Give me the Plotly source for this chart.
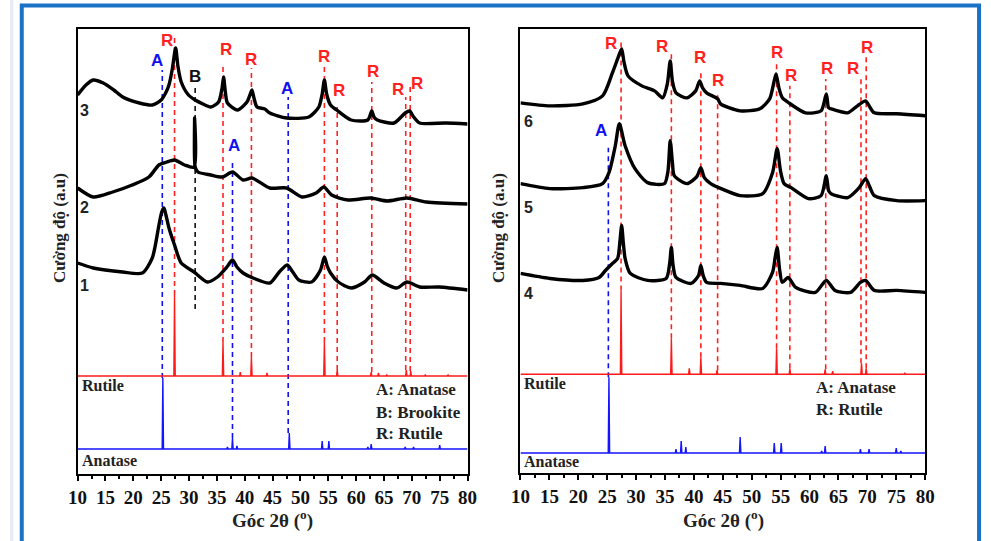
import plotly.graph_objects as go

W, H = 991, 541

# ---------------- LEFT PANEL DATA (intensity a.u., stacked) ----------------
L3_x = [10, 11.5, 12.8, 14.6, 16.5, 18.1, 21.1, 23.4, 25.0, 25.8, 26.4, 27.0, 27.6, 28.0, 28.6, 29.9, 31.1, 32.5, 33.9,
        35.3, 35.9, 36.2, 36.5, 36.9, 38.7, 40.4, 41.0, 41.3, 41.7, 42.2, 43.6, 44.5, 47.5, 51.5, 53.3, 53.9, 54.3,
        54.7, 55.4, 56.5, 59.1, 62.1, 62.8, 63.2, 63.8, 66.8, 68.8, 69.6, 70.2, 71.4, 76.1, 80]
L3_y = [379, 389, 394, 391, 384, 377, 371, 369, 374, 381, 389, 405, 426, 408, 392, 379, 374, 370, 367,
        372, 385, 397, 383, 371, 364, 372, 380, 384, 375, 367, 365, 361, 356, 357, 367, 380, 394,
        380, 369, 364, 354, 354, 363, 357, 354, 351, 361, 363, 358, 351, 351, 350]

L2_x = [10, 12.8, 16.3, 19.8, 22.8, 24.6, 26.0, 27.4, 29.2, 30.9, 31.0, 31.1, 31.6, 33.9, 36.0, 37.8, 39.7, 41.3,
        44.5, 47.5, 50.3, 52.8, 54.2, 55.6, 58.5, 62.6, 65.6, 69.1, 72.6, 80]
L2_y = [286, 277, 282, 289, 297, 309, 312, 314, 309, 307, 356, 307, 302, 299, 297, 302, 294, 296,
        286, 286, 277, 281, 287, 279, 274, 276, 273, 276, 272, 270]

L1_x = [10, 12.8, 18.1, 21.6, 23.4, 24.6, 25.1, 25.5, 25.9, 26.4, 27.4, 28.6, 30.9, 33.3, 35.1, 36.8, 37.8, 38.6,
        39.7, 41.5, 44.5, 46.2, 47.6, 48.5, 49.7, 52.0, 53.6, 54.3, 54.8, 55.4, 56.8, 59.1, 61.5, 62.9, 65.0,
        67.3, 69.1, 71.4, 74.9, 80]
L1_y = [211, 206, 202, 201, 216, 249, 262, 266, 258, 246, 229, 211, 202, 192, 197, 207, 214, 207,
        201, 196, 191, 202, 209, 203, 194, 192, 204, 217, 208, 201, 192, 186, 192, 199, 191,
        186, 192, 187, 187, 184]

L_rut_base = 98
L_rut_pos = [27.4, 36.1, 39.2, 41.2, 44.0, 54.3, 56.6, 62.7, 64.0, 65.5, 69.0, 69.8, 72.4, 76.5]
L_rut_int = [81, 34, 4, 19, 3, 34, 6, 4, 3, 1, 6, 5, 1, 1]
L_ana_base = 25
L_ana_pos = [25.3, 36.9, 37.8, 38.6, 48.0, 53.9, 55.1, 62.1, 62.7, 68.8, 70.3, 75.0]
L_ana_int = [71, 2, 11, 3, 16, 8, 8, 2, 5, 2, 2, 4]

# dashed guide lines: position, colour, top, bottom
L_dash_pos = [25.2, 27.4, 31.1, 36.1, 37.8, 41.2, 47.8, 54.3, 56.6, 62.8, 68.9, 69.7]
L_dash_col = ["blue", "red", "black", "red", "blue", "red", "blue", "red", "red", "red", "red", "red"]
L_dash_top = [404, 436, 389, 409, 314, 406, 377, 409, 367, 392, 377, 389]
L_dash_bot = [96, 179, 165, 132, 36, 117, 41, 132, 104, 102, 104, 103]

L_lab_txt = ["A", "R", "B", "R", "R", "A", "R", "R", "R", "R", "R", "A"]
L_lab_col = ["blue", "red", "black", "red", "red", "blue", "red", "red", "red", "red", "red", "blue"]
L_lab_x = [24.25, 26.0, 31.1, 36.6, 41.1, 47.6, 54.3, 57.0, 63.1, 67.5, 71.0, 38.0]
L_lab_y = [414, 434, 398, 425, 415, 386, 418, 384, 403, 385, 391, 329]

L_num_txt = ["3", "2", "1"]
L_num_y = [364, 267, 189]
L_leg_txt = ["A: Anatase", "B: Brookite", "R: Rutile"]
L_leg_y = [85, 62, 41]

# ---------------- RIGHT PANEL DATA ----------------
R6_x = [10, 15.1, 20.8, 24.2, 25.9, 26.8, 27.5, 27.9, 28.6, 31.0, 33.2, 34.6, 35.4, 35.9, 36.3, 36.9, 38.8, 40.3,
        41.0, 41.5, 42.2, 44.1, 44.6, 48.0, 51.4, 53.1, 53.7, 54.2, 54.7, 55.3, 56.4, 59.3, 62.0, 62.9, 63.3,
        63.7, 66.6, 68.3, 69.7, 70.3, 71.2, 75.1, 80]
R6_y = [371, 368, 370, 378, 401, 415, 425, 412, 398, 388, 383, 376, 390, 413, 392, 381, 376, 383,
        393, 386, 381, 375, 370, 363, 365, 375, 388, 400, 386, 376, 371, 361, 363, 380, 366,
        365, 361, 368, 373, 368, 361, 360, 358]

R5_x = [10, 15.1, 20.8, 24.2, 25.3, 26.4, 27.1, 28.1, 29.8, 32.0, 34.9, 35.5, 35.9, 36.3, 36.6, 38.8, 40.5, 41.2,
        41.8, 42.9, 44.7, 48.0, 51.9, 53.6, 54.4, 55.0, 55.6, 56.8, 59.8, 62.0, 62.9, 63.3, 63.7, 66.6,
        68.6, 69.7, 70.4, 71.2, 75.1, 80]
R5_y = [290, 285, 286, 290, 301, 328, 350, 328, 305, 291, 290, 302, 333, 310, 298, 290, 297, 306,
        296, 290, 285, 278, 280, 301, 325, 302, 290, 286, 275, 278, 298, 283, 280, 276,
        286, 295, 287, 278, 273, 273]

R4_x = [10, 15.1, 20.8, 23.6, 24.7, 25.9, 26.8, 27.2, 27.5, 27.8, 28.1, 29.0, 32.0, 35.2, 35.8, 36.1, 36.4, 36.9,
        39.5, 40.8, 41.2, 41.6, 42.2, 44.6, 48.0, 51.9, 53.6, 54.1, 54.4, 54.8, 55.3, 56.3, 57.6, 61.0, 62.9,
        64.4, 67.1, 68.8, 69.7, 71.2, 75.1, 80]
R4_y = [200, 195, 193, 196, 203, 210, 215, 232, 248, 230, 215, 200, 193, 195, 210, 226, 208, 196,
        190, 198, 208, 198, 191, 190, 188, 185, 201, 218, 226, 205, 191, 196, 186, 181, 193,
        183, 181, 191, 193, 183, 183, 181]

R_rut_base = 99
R_rut_pos = [27.4, 36.1, 39.2, 41.2, 44.0, 54.3, 56.6, 62.7, 64.0, 69.0, 69.8, 76.5]
R_rut_int = [84, 36, 6, 17, 4, 26, 6, 5, 3, 11, 6, 1]
R_ana_base = 20
R_ana_pos = [25.3, 36.9, 37.8, 38.6, 48.0, 53.9, 55.1, 62.1, 62.7, 68.8, 70.3, 75.0, 75.8]
R_ana_int = [76, 4, 12, 6, 16, 10, 10, 2, 7, 4, 4, 5, 2]

R_dash_pos = [25.2, 27.4, 36.1, 41.2, 44.1, 54.3, 56.6, 62.8, 68.9, 69.8]
R_dash_col = ["blue", "red", "red", "red", "red", "red", "red", "red", "red", "red"]
R_dash_top = [326, 435, 423, 403, 381, 411, 388, 395, 395, 418]
R_dash_bot = [96, 183, 135, 116, 103, 125, 105, 104, 110, 105]

R_lab_txt = ["R", "R", "R", "R", "R", "R", "R", "R", "R", "A"]
R_lab_col = ["red"] * 9 + ["blue"]
R_lab_x = [25.6, 34.4, 41.0, 44.2, 54.4, 56.8, 63.1, 67.5, 70.0, 23.9]
R_lab_y = [430, 427, 416, 393, 421, 398, 405, 405, 426, 343]

R_num_txt = ["6", "5", "4"]
R_num_y = [352, 266, 180]
R_leg_txt = ["A: Anatase", "R: Rutile"]
R_leg_y = [86, 64]

XTICKS = [10, 15, 20, 25, 30, 35, 40, 45, 50, 55, 60, 65, 70, 75, 80]
XTICK_TEXT = ["<b>%d</b>" % v for v in XTICKS]

COL = {"blue": "#1010f0", "red": "#ff2020", "black": "#111111"}
SERIF = "Liberation Serif, Times New Roman, serif"
SANS = "Liberation Sans, Arial, sans-serif"


def sticks(base, pos, inten, w=0.12):
    xs, ys = [10], [base]
    for p, h in sorted(zip(pos, inten)):
        xs += [p - w, p, p + w]
        ys += [base, base + h, base]
    xs.append(80)
    ys.append(base)
    return xs, ys


fig = go.Figure()

panels = [
    dict(xa="x", ya="y", curves=[(L3_x, L3_y), (L2_x, L2_y), (L1_x, L1_y)],
         rut=(L_rut_base, L_rut_pos, L_rut_int), ana=(L_ana_base, L_ana_pos, L_ana_int),
         dash=(L_dash_pos, L_dash_col, L_dash_top, L_dash_bot),
         lab=(L_lab_txt, L_lab_col, L_lab_x, L_lab_y), num=(L_num_txt, L_num_y),
         leg=(L_leg_txt, L_leg_y), legx=63.2, numx=11.2, txtx=10.4, ru_y=89, an_y=14),
    dict(xa="x2", ya="y2", curves=[(R6_x, R6_y), (R5_x, R5_y), (R4_x, R4_y)],
         rut=(R_rut_base, R_rut_pos, R_rut_int), ana=(R_ana_base, R_ana_pos, R_ana_int),
         dash=(R_dash_pos, R_dash_col, R_dash_top, R_dash_bot),
         lab=(R_lab_txt, R_lab_col, R_lab_x, R_lab_y), num=(R_num_txt, R_num_y),
         leg=(R_leg_txt, R_leg_y), legx=60.7, numx=11.4, txtx=10.3, ru_y=90, an_y=12),
]

annotations = []
for P in panels:
    xa, ya = P["xa"], P["ya"]
    dp, dc, dt, db = P["dash"]
    for p, c, t, b in zip(dp, dc, dt, db):
        fig.add_trace(go.Scatter(x=[p, p], y=[b, t], mode="lines", xaxis=xa, yaxis=ya,
                                 line=dict(color=COL[c], width=1.6, dash="5px,4px"),
                                 showlegend=False, hoverinfo="skip"))
    sx, sy = sticks(*P["rut"])
    fig.add_trace(go.Scatter(x=sx, y=sy, mode="lines", xaxis=xa, yaxis=ya,
                             line=dict(color="#ff1a1a", width=1.4), showlegend=False))
    sx, sy = sticks(*P["ana"])
    fig.add_trace(go.Scatter(x=sx, y=sy, mode="lines", xaxis=xa, yaxis=ya,
                             line=dict(color="#1414ff", width=1.4), showlegend=False))
    for cx, cy in P["curves"]:
        fig.add_trace(go.Scatter(x=cx, y=cy, mode="lines", xaxis=xa, yaxis=ya,
                                 line=dict(color="black", width=3.4, shape="spline", smoothing=0.7),
                                 showlegend=False))
    for t, c, x, y in zip(*P["lab"]):
        annotations.append(dict(x=x, y=y, xref=xa, yref=ya, text="<b>" + t + "</b>", showarrow=False,
                                xanchor="center", yanchor="middle",
                                font=dict(family=SANS, size=17, color=COL[c])))
    for t, y in zip(*P["num"]):
        annotations.append(dict(x=P["numx"], y=y, xref=xa, yref=ya, text="<b>" + t + "</b>", showarrow=False,
                                xanchor="center", yanchor="middle",
                                font=dict(family=SANS, size=16, color="#222")))
    annotations.append(dict(x=P["txtx"], y=P["ru_y"], xref=xa, yref=ya, text="<b>Rutile</b>", showarrow=False,
                            xanchor="left", yanchor="middle", font=dict(family=SERIF, size=16, color="#222")))
    annotations.append(dict(x=P["txtx"], y=P["an_y"], xref=xa, yref=ya, text="<b>Anatase</b>", showarrow=False,
                            xanchor="left", yanchor="middle", font=dict(family=SERIF, size=16, color="#222")))
    for t, y in zip(*P["leg"]):
        annotations.append(dict(x=P["legx"], y=y, xref=xa, yref=ya, text="<b>" + t + "</b>", showarrow=False,
                                xanchor="left", yanchor="middle",
                                font=dict(family=SERIF, size=17, color="#222")))

for xc, yc in [(50, 228), (498, 228)]:
    annotations.append(dict(x=xc / W, y=1 - yc / H, xref="paper", yref="paper", text="<b>Cường độ (a.u)</b>",
                            textangle=-90, showarrow=False, xanchor="center", yanchor="middle",
                            font=dict(family=SERIF, size=17, color="#222")))
for xc in [268, 728]:
    annotations.append(dict(x=xc / W, y=1 - 519 / H, xref="paper", yref="paper",
                            text="<b>Góc 2θ (<sup>o</sup>)</b>", showarrow=False,
                            xanchor="center", yanchor="middle",
                            font=dict(family=SERIF, size=19, color="#222")))

xax = dict(range=[10, 80], tickvals=XTICKS, ticktext=XTICK_TEXT, ticks="outside", ticklen=5, tickwidth=2,
           tickcolor="black", showline=True, linewidth=2, linecolor="black", mirror=True, showgrid=False,
           zeroline=False,
           minor=dict(tickvals=[12.5 + 5 * i for i in range(14)], ticks="outside", ticklen=3, tickwidth=1.5,
                      tickcolor="black"),
           tickfont=dict(family=SERIF, size=19, color="#111"))
yax = dict(range=[0, 445], showticklabels=False, ticks="", showline=True, linewidth=2, linecolor="black",
           mirror=True, showgrid=False, zeroline=False)

fig.update_layout(
    width=W, height=H, margin=dict(l=0, r=0, t=0, b=0),
    paper_bgcolor="white", plot_bgcolor="white", showlegend=False,
    xaxis=dict(xax, domain=[69 / W, 467 / W], anchor="y"),
    yaxis=dict(yax, domain=[1 - 474 / H, 1 - 29 / H], anchor="x"),
    xaxis2=dict(xax, domain=[521 / W, 934 / W], anchor="y2"),
    yaxis2=dict(yax, domain=[1 - 473 / H, 1 - 29 / H], anchor="x2"),
    annotations=annotations,
    shapes=[
        dict(type="rect", xref="paper", yref="paper", x0=0, x1=3.5 / W, y0=0, y1=1,
             fillcolor="#e6ecf6", line=dict(width=0), layer="below"),
        dict(type="rect", xref="paper", yref="paper", x0=12 / W, x1=989 / W, y0=-0.05, y1=1 - 5.5 / H,
             fillcolor="rgba(0,0,0,0)", line=dict(color="#1a72c6", width=4)),
    ],
)

fig.write_html("out.html", config={"displayModeBar": False},
               post_script="document.body.style.margin='0px';document.body.style.overflow='hidden';")
